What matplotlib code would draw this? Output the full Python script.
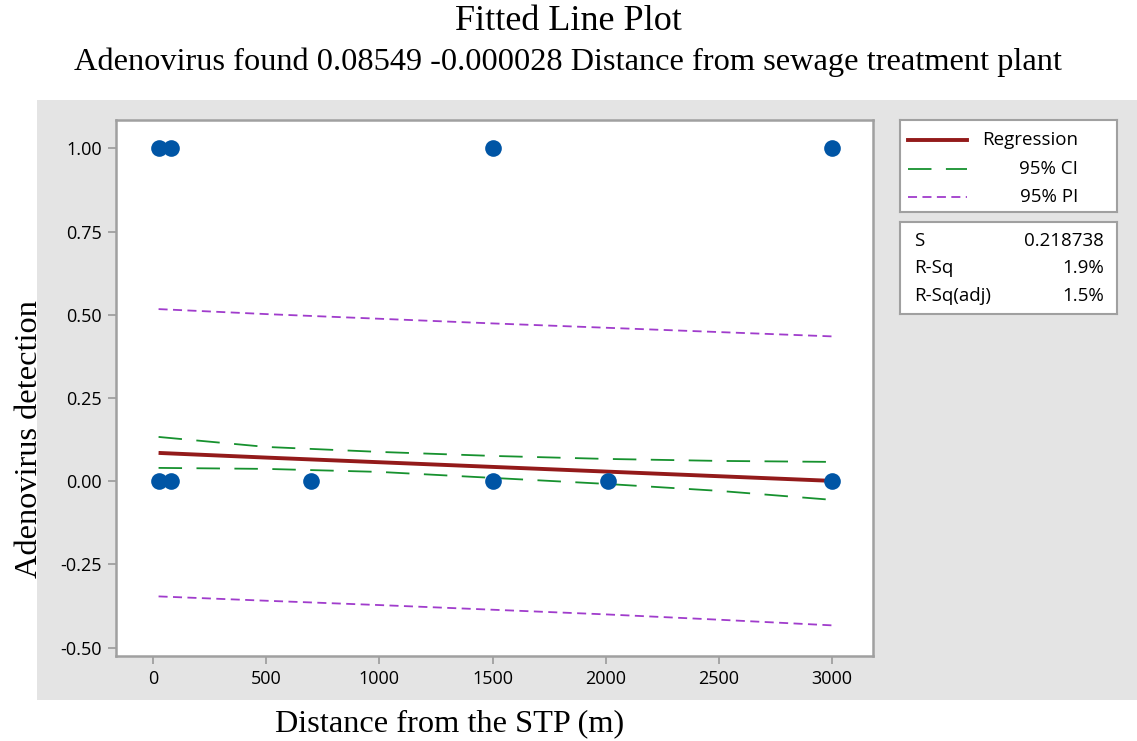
import matplotlib
matplotlib.use("Agg")
import matplotlib.pyplot as plt
from matplotlib.lines import Line2D

# observed detections (1 = found, 0 = not found)
dist_found = [25, 80, 1500, 3000]
dist_not_found = [25, 80, 700, 1500, 2010, 3000]

# fitted line and bands
grid_x = [25, 500, 1000, 1500, 2000, 2500, 3000]
fit_y = [0.085, 0.071, 0.057, 0.043, 0.029, 0.015, 0.001]
ci_upper = [0.133, 0.103, 0.088, 0.076, 0.067, 0.061, 0.058]
ci_lower = [0.040, 0.037, 0.028, 0.010, -0.008, -0.029, -0.056]
pi_upper = [0.517, 0.502, 0.488, 0.474, 0.461, 0.448, 0.435]
pi_lower = [-0.346, -0.359, -0.372, -0.386, -0.400, -0.416, -0.433]

x_ticks = [0, 500, 1000, 1500, 2000, 2500, 3000]
y_ticks = [-0.50, -0.25, 0.00, 0.25, 0.50, 0.75, 1.00]

legend_labels = ["Regression", "95% CI", "95% PI"]
stats_names = ["S", "R-Sq", "R-Sq(adj)"]
stats_values = ["0.218738", "1.9%", "1.5%"]

RED = "#931a1a"
GREEN = "#16912e"
PURPLE = "#a03ccc"
BLUE = "#0055a5"
PANEL = "#e4e4e4"
FRAME = "#a0a0a0"
SANS = "Open Sans"
SERIF = "Liberation Serif"

W, H = 1137, 741
fig = plt.figure(figsize=(W / 100, H / 100), dpi=100)


def fx(px):
    return px / W


def fy(py):
    return 1 - py / H


# gray panel behind plot
bg = fig.add_axes([fx(37), fy(700), 1 - fx(37), fy(100) - fy(700)], zorder=-1)
bg.set_facecolor(PANEL)
bg.set_xticks([])
bg.set_yticks([])
for sp in bg.spines.values():
    sp.set_visible(False)

ax = fig.add_axes([fx(116), fy(656), fx(873) - fx(116), fy(120) - fy(656)])
ax.set_facecolor("white")
for sp in ax.spines.values():
    sp.set_color(FRAME)
    sp.set_linewidth(1.8)

ax.plot(grid_x, pi_upper, color=PURPLE, lw=1.3, dashes=(5, 3))
ax.plot(grid_x, pi_lower, color=PURPLE, lw=1.3, dashes=(5, 3))
ax.plot(grid_x, ci_upper, color=GREEN, lw=1.3, dashes=(13, 8))
ax.plot(grid_x, ci_lower, color=GREEN, lw=1.3, dashes=(13, 8))
ax.plot(grid_x, fit_y, color=RED, lw=2.8, solid_capstyle="butt")

ax.plot(dist_found, [1] * len(dist_found), "o", color=BLUE, ms=12, mew=0, zorder=5)
ax.plot(dist_not_found, [0] * len(dist_not_found), "o", color=BLUE, ms=12, mew=0, zorder=5)

ax.set_xlim(-163, 3180)
ax.set_ylim(-0.525, 1.085)
ax.set_xticks(x_ticks)
ax.set_yticks(y_ticks)
ax.set_yticklabels([f"{v:.2f}" for v in y_ticks])
ax.tick_params(direction="out", length=6, width=1.3, color=FRAME,
               labelsize=13, pad=4)
for lab in ax.get_xticklabels() + ax.get_yticklabels():
    lab.set_fontfamily(SANS)

# titles and axis labels
fig.text(0.5, fy(21), "Fitted Line Plot", ha="center", va="center",
         fontfamily=SERIF, fontsize=26)
fig.text(0.5, fy(62), "Adenovirus found 0.08549 -0.000028 Distance from sewage treatment plant",
         ha="center", va="center", fontfamily=SERIF, fontsize=23.3)
fig.text(fx(450), fy(724), "Distance from the STP (m)", ha="center", va="center",
         fontfamily=SERIF, fontsize=23.3)
fig.text(fx(30), fy(439), "Adenovirus detection", ha="center", va="center",
         rotation=90, fontfamily=SERIF, fontsize=23.3)

# legend box
lg = fig.add_axes([fx(900), fy(212), fx(1117) - fx(900), fy(120) - fy(212)])
lg.set_xlim(900, 1117)
lg.set_ylim(212, 120)
lg.set_xticks([])
lg.set_yticks([])
for sp in lg.spines.values():
    sp.set_color(FRAME)
    sp.set_linewidth(1.5)
rows_y = [140, 169, 197]
lg.add_line(Line2D([908, 967], [rows_y[0]] * 2, color=RED, lw=2.8))
lg.add_line(Line2D([908, 967], [rows_y[1]] * 2, color=GREEN, lw=1.3, dashes=(13, 8)))
lg.add_line(Line2D([908, 967], [rows_y[2]] * 2, color=PURPLE, lw=1.3, dashes=(5, 3)))
for y, t in zip(rows_y, legend_labels):
    lg.text(1078, y, t, ha="right", va="center", fontfamily=SANS, fontsize=13.5)

# stats box
st = fig.add_axes([fx(900), fy(314), fx(1117) - fx(900), fy(222) - fy(314)])
st.set_xlim(900, 1117)
st.set_ylim(314, 222)
st.set_xticks([])
st.set_yticks([])
for sp in st.spines.values():
    sp.set_color(FRAME)
    sp.set_linewidth(1.5)
for y, n, v in zip([241, 268, 296], stats_names, stats_values):
    st.text(914, y, n, ha="left", va="center", fontfamily=SANS, fontsize=13.5)
    st.text(1104, y, v, ha="right", va="center", fontfamily=SANS, fontsize=13.5)

fig.savefig("out.png", dpi=100)
